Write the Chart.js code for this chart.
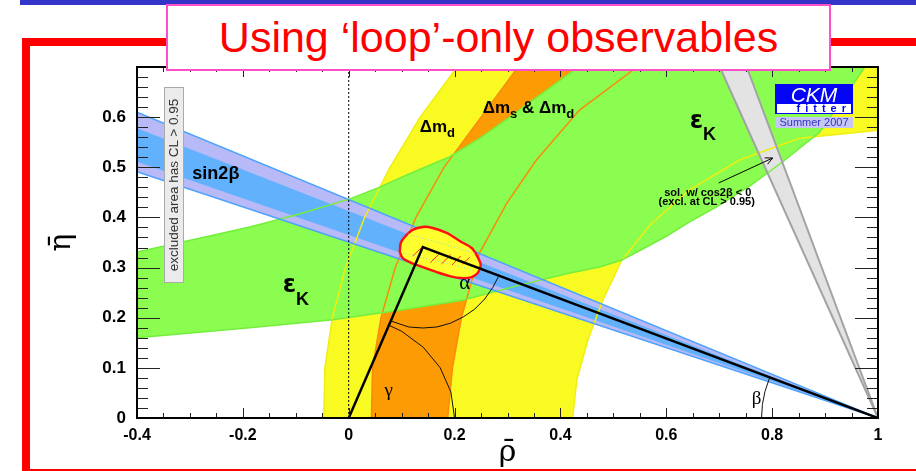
<!DOCTYPE html>
<html>
<head>
<meta charset="utf-8">
<script src="https://cdn.jsdelivr.net/npm/chart.js@4.4.1/dist/chart.umd.min.js"></script>
<style>
  html, body { margin: 0; padding: 0; background: #fff; }
  body { width: 916px; height: 471px; position: relative; overflow: hidden; font-family: "Liberation Sans", Arial, sans-serif; }
  #topbar { position: absolute; left: 20px; top: 0; width: 896px; height: 5px; background: #3434c8; }
  #frameL { position: absolute; left: 22px; top: 38px; width: 8px; height: 433px; background: #f00; }
  #frameT { position: absolute; left: 22px; top: 38px; width: 894px; height: 8px; background: #f00; }
  #frameB { position: absolute; left: 22px; top: 469px; width: 894px; height: 2px; background: #f00; }
  #plot { position: absolute; left: 0; top: 0; z-index: 1; }
  #title { position: absolute; left: 166px; top: 4px; width: 661px; height: 63px; border: 2px solid #ff50c8;
           background: #fff; color: #f00; font-size: 43px; line-height: 63px; text-align: center; z-index: 5; white-space: nowrap; }
  #excl { position: absolute; left: 76px; top: 175px; width: 194px; height: 18px; transform: rotate(-90deg);
          background: #ebebeb; border: 1px solid #aaa; color: #333; font-size: 13.5px; line-height: 18px;
          text-align: center; z-index: 5; white-space: nowrap; }
  #logo { position: absolute; left: 775px; top: 84px; width: 78px; height: 30px; background: #0505f5; z-index: 5; }
  #ckm { position: absolute; left: 0; top: 0; width: 78px; height: 20px; line-height: 21px; color: #fff;
         font-style: italic; font-size: 21px; text-align: center; }
  #fitter { position: absolute; left: 2px; top: 20px; width: 74px; height: 9px; background: #fff; color: #0505f5;
            font-weight: bold; font-size: 11px; line-height: 9px; letter-spacing: 5px; text-align: right; }
  #summer { position: absolute; left: 775px; top: 117px; width: 78px; height: 11px; background: #c6c6f2; color: #3333cc;
            font-size: 11px; line-height: 11px; text-align: center; z-index: 5; }
</style>
</head>
<body>
<div id="topbar"></div>
<div id="frameL"></div>
<div id="frameT"></div>
<div id="frameB"></div>
<canvas id="plot" width="916" height="471"></canvas>
<div id="title">Using ‘loop’-only observables</div>
<div id="excl">excluded area has CL &gt; 0.95</div>
<div id="logo"><div id="ckm">CKM</div><div id="fitter">fitter</div></div>
<div id="summer">Summer 2007</div>

<script>
// values, in (rho-bar, eta-bar)
const xTickLabels = [-0.4, -0.2, 0, 0.2, 0.4, 0.6, 0.8, 1];
const yTickLabels = [0, 0.1, 0.2, 0.3, 0.4, 0.5, 0.6];

// Delta m_d ring (yellow)
const dmdOuter = [[-0.047, 0], [-0.045, 0.1], [-0.031, 0.2], [-0.006, 0.3], [0.03, 0.4], [0.078, 0.5], [0.135, 0.6], [0.205, 0.7]];
const dmdInner = [[0.423, 0], [0.431, 0.076], [0.452, 0.156], [0.48, 0.235], [0.516, 0.315], [0.569, 0.385],
                  [0.644, 0.455], [0.739, 0.515], [0.852, 0.558], [1, 0.574]];
// Delta m_s & Delta m_d ring (orange)
const dmsOuter = [[0.043, 0], [0.045, 0.1], [0.061, 0.2], [0.088, 0.3], [0.127, 0.4], [0.18, 0.5], [0.25, 0.6], [0.32, 0.7]];
const dmsInner = [[0.187, 0], [0.196, 0.1], [0.213, 0.2], [0.247, 0.329], [0.299, 0.429], [0.355, 0.515], [0.436, 0.614], [0.545, 0.7]];
// epsilon_K band (green)
const ekUpper = [[-0.4, 0.331], [-0.28, 0.359], [-0.187, 0.381], [-0.093, 0.407], [0.002, 0.437], [0.055, 0.459],
                 [0.115, 0.487], [0.191, 0.521], [0.248, 0.558], [0.304, 0.6], [0.361, 0.644], [0.421, 0.69], [0.434, 0.7]];
const ekLower = [[-0.4, 0.16], [-0.187, 0.18], [-0.03, 0.196], [0.096, 0.215], [0.215, 0.235], [0.323, 0.265],
                 [0.418, 0.289], [0.474, 0.301], [0.516, 0.315], [0.559, 0.339], [0.601, 0.363], [0.644, 0.391],
                 [0.695, 0.421], [0.758, 0.463], [0.82, 0.511], [0.865, 0.549], [0.89, 0.57], [0.918, 0.612],
                 [0.947, 0.656], [0.975, 0.7]];
// sin2beta wedge
const s2bApex = [1, 0];
const s2bOuter = [[-0.4, 0.61], [-0.4, 0.491]];
const s2bInner = [[-0.4, 0.578], [-0.4, 0.511]];
// cos2beta < 0 solution (grey)
const cos2bWedge = [[1, 0], [0.701, 0.7], [0.752, 0.7]];
const cos2bArrow = [[0.699, 0.4687], [0.801, 0.5185]];
// global fit contour
const fitContour = [[0.0964, 0.331], [0.0983, 0.349], [0.1058, 0.361], [0.1209, 0.375], [0.1398, 0.381], [0.1587, 0.379],
                    [0.1852, 0.369], [0.2097, 0.353], [0.2324, 0.339], [0.2437, 0.321], [0.2494, 0.305], [0.2437, 0.289],
                    [0.2324, 0.281], [0.2135, 0.279], [0.1908, 0.283], [0.1663, 0.291], [0.1398, 0.301], [0.119, 0.309],
                    [0.102, 0.319], [0.0964, 0.331]];
const fitDots = [[[0.1115, 0.367], [0.238, 0.329]], [[0.102, 0.329], [0.238, 0.295]]];
const fitHatch = [[[0.1209, 0.3231], [0.1368, 0.339]], [[0.1543, 0.3097], [0.1719, 0.3284]], [[0.1751, 0.3071], [0.1927, 0.3256]],
                  [[0.1952, 0.3051], [0.2116, 0.3231]], [[0.2148, 0.3071], [0.2286, 0.3204]]];
// unitarity triangle and its angles
const utTriangle = [[0, 0], [0.14, 0.341], [1, 0]];
const alphaArc = [[0.2834, 0.2832], [0.272, 0.26], [0.2569, 0.2373], [0.238, 0.217], [0.2163, 0.2014], [0.192, 0.189],
                  [0.1663, 0.1815], [0.14, 0.1795], [0.1134, 0.1815], [0.0794, 0.1935]];
const gammaArc = [[0.2, 0], [0.193, 0.052], [0.173, 0.1], [0.141, 0.141], [0.1, 0.173], [0.076, 0.185]];
const betaArc = [[0.78, 0], [0.7816, 0.0268], [0.7865, 0.0532], [0.7955, 0.081]];
const rhoZero = [[0, 0], [0, 0.7]];

const sans = '"Liberation Sans", Arial, sans-serif';
const serif = '"Liberation Serif", serif';
const greek = '"DejaVu Sans", sans-serif';
const notes = [
  { x: -0.251, y: 0.4757, align: 'center', parts: [['sin2β', 'bold 18px ' + sans]] },
  { x: -0.1247, y: 0.2513, parts: [['ε', 'bold 24px ' + greek], ['K', 'bold 18px ' + sans, 13]] },
  { x: 0.6443, y: 0.5784, parts: [['ε', 'bold 24px ' + greek], ['K', 'bold 18px ' + sans, 12]] },
  { x: 0.1341, y: 0.5704, parts: [['Δm', 'bold 17px ' + sans], ['d', 'bold 13px ' + sans, 5]] },
  { x: 0.2532, y: 0.6083, parts: [['Δm', 'bold 17px ' + sans], ['s', 'bold 13px ' + sans, 5],
                                  [' & Δm', 'bold 17px ' + sans], ['d', 'bold 13px ' + sans, 5]] },
  { x: 0.2192, y: 0.2563, align: 'center', parts: [['α', '21px ' + serif]] },
  { x: 0.0756, y: 0.0439, align: 'center', parts: [['γ', '19px ' + serif]] },
  { x: 0.7708, y: 0.0279, align: 'center', parts: [['β', '19px ' + serif]] },
  { x: 0.6783, y: 0.4428, align: 'center', parts: [['sol. w/ cos2β < 0', 'bold 11px ' + sans]] },
  { x: 0.6764, y: 0.4248, align: 'center', parts: [['(excl. at CL > 0.95)', 'bold 11px ' + sans]] }
];

const pts = arr => arr.map(([x, y]) => ({ x, y }));
const onList = (list, v) => list.some(l => Math.abs(l - v) < 1e-6);

function area(points, color, extra) {
  return Object.assign({ data: pts(points), showLine: true, fill: 'shape', backgroundColor: color,
    borderColor: 'rgba(0,0,0,0)', borderWidth: 0, pointRadius: 0 }, extra || {});
}
function curve(points, color, width, dash) {
  return { data: pts(points), showLine: true, fill: false, borderColor: color, borderWidth: width,
    borderDash: dash || [], pointRadius: 0 };
}

// bottom to top
const layers = [
  area([...dmdOuter, [1, 0.7], ...dmdInner.slice().reverse()], '#fafa23'),
  area([...dmsOuter, ...dmsInner.slice().reverse()], '#fd9b05'),
  area([...ekUpper, ...ekLower.slice().reverse()], '#8bfd50'),
  area([s2bApex, ...s2bOuter], '#b8b9f7'),
  area([s2bApex, ...s2bInner], '#62b1fd'),
  area(cos2bWedge, '#e3e3e3'),
  curve(dmdOuter, '#eeee10', 1.5),
  curve(dmdInner, '#eeee10', 1.5),
  curve(dmsOuter, '#fb8a0a', 1.5),
  curve(dmsInner, '#fb8a0a', 1.5),
  curve(ekUpper, '#74ee3c', 1.5),
  curve(ekLower, '#74ee3c', 1.5),
  curve([s2bApex, s2bOuter[0]], '#4aa2ff', 1.5),
  curve([s2bApex, s2bOuter[1]], '#4aa2ff', 1.5),
  curve([cos2bWedge[0], cos2bWedge[1]], '#a3a3a3', 2),
  curve([cos2bWedge[0], cos2bWedge[2]], '#a3a3a3', 2),
  area(fitContour, '#ffff30', { borderColor: '#ff1010', borderWidth: 2.5, tension: 0.3 }),
  ...fitDots.map(d => curve(d, '#8fd6e6', 1, [1, 2])),
  ...fitHatch.map(h => curve(h, '#ff3010', 1)),
  curve(rhoZero, '#000', 1, [2, 2]),
  curve(utTriangle, '#000', 2.5),
  curve(alphaArc, '#111', 1),
  curve(gammaArc, '#111', 1),
  curve(betaArc, '#111', 1),
  curve(cos2bArrow, '#000', 1)
];
layers.forEach((d, i) => { d.order = layers.length - i; });

const frameTicks = {
  id: 'frameTicks',
  afterDatasetsDraw(chart) {
    const { ctx, chartArea: a, scales: { x, y } } = chart;
    ctx.save();
    ctx.strokeStyle = '#222';
    ctx.lineWidth = 1;
    ctx.beginPath();
    x.ticks.forEach(t => {
      const px = Math.round(x.getPixelForValue(t.value)) + 0.5;
      const len = onList(xTickLabels, t.value) ? 10 : 5;
      ctx.moveTo(px, a.bottom); ctx.lineTo(px, a.bottom - len);
      ctx.moveTo(px, a.top); ctx.lineTo(px, a.top + len);
    });
    y.ticks.forEach(t => {
      const py = Math.round(y.getPixelForValue(t.value)) + 0.5;
      const major = Math.abs(t.value * 10 - Math.round(t.value * 10)) < 1e-6;
      const len = major ? 23 : 11;
      ctx.moveTo(a.left, py); ctx.lineTo(a.left + len, py);
      ctx.moveTo(a.right, py); ctx.lineTo(a.right - len, py);
    });
    ctx.stroke();
    ctx.strokeStyle = '#000';
    ctx.lineWidth = 2;
    ctx.strokeRect(a.left, a.top, a.right - a.left, a.bottom - a.top);
    ctx.restore();
  }
};

const notesPlugin = {
  id: 'notes',
  afterDatasetsDraw(chart) {
    const { ctx, scales: { x, y } } = chart;
    ctx.save();
    ctx.fillStyle = '#000';
    ctx.textBaseline = 'alphabetic';
    notes.forEach(n => {
      let px = x.getPixelForValue(n.x);
      const py = y.getPixelForValue(n.y);
      const widths = n.parts.map(p => { ctx.font = p[1]; return ctx.measureText(p[0]).width; });
      if (n.align === 'center') px -= widths.reduce((s, w) => s + w, 0) / 2;
      n.parts.forEach((p, i) => {
        ctx.font = p[1];
        ctx.fillText(p[0], px, py + (p[2] || 0));
        px += widths[i];
      });
    });
    // open arrow head on the cos2beta pointer
    const ax = x.getPixelForValue(cos2bArrow[0][0]), ay = y.getPixelForValue(cos2bArrow[0][1]);
    const bx = x.getPixelForValue(cos2bArrow[1][0]), by = y.getPixelForValue(cos2bArrow[1][1]);
    const ang = Math.atan2(by - ay, bx - ax);
    ctx.strokeStyle = '#000';
    ctx.lineWidth = 1;
    ctx.beginPath();
    ctx.moveTo(bx - 8 * Math.cos(ang - 0.45), by - 8 * Math.sin(ang - 0.45));
    ctx.lineTo(bx, by);
    ctx.lineTo(bx - 8 * Math.cos(ang + 0.45), by - 8 * Math.sin(ang + 0.45));
    ctx.stroke();
    ctx.restore();
  }
};

new Chart(document.getElementById('plot'), {
  type: 'scatter',
  data: { datasets: layers },
  options: {
    responsive: false,
    animation: false,
    events: [],
    layout: { padding: { left: 0, top: 67, right: 38, bottom: 0 } },
    plugins: { legend: { display: false }, tooltip: { enabled: false } },
    scales: {
      x: {
        type: 'linear', min: -0.4, max: 1,
        grid: { display: false, drawTicks: false },
        border: { display: false },
        ticks: {
          stepSize: 0.05, autoSkip: false, maxRotation: 0, padding: 8, color: '#000',
          font: { family: 'Liberation Sans', size: 16, weight: 'bold' },
          callback: v => onList(xTickLabels, v) ? String(Math.round(v * 10) / 10) : ''
        },
        title: { display: true, text: 'ρ̄', color: '#000', padding: { top: 5, bottom: 0 },
                 font: { family: 'DejaVu Serif', size: 30 } },
        afterFit: s => { s.height = 53; }
      },
      y: {
        type: 'linear', min: 0, max: 0.7,
        grid: { display: false, drawTicks: false },
        border: { display: false },
        ticks: {
          stepSize: 0.02, autoSkip: false, padding: 11, color: '#000',
          font: { family: 'Liberation Sans', size: 17, weight: 'bold' },
          callback: v => onList(yTickLabels, v) ? String(Math.round(v * 10) / 10) : ''
        },
        title: { display: true, text: 'η̄', color: '#000', padding: { top: 44, bottom: 0 },
                 font: { family: 'DejaVu Serif', size: 30 } },
        afterFit: s => { s.width = 137; }
      }
    }
  },
  plugins: [frameTicks, notesPlugin]
});
</script>
</body>
</html>
